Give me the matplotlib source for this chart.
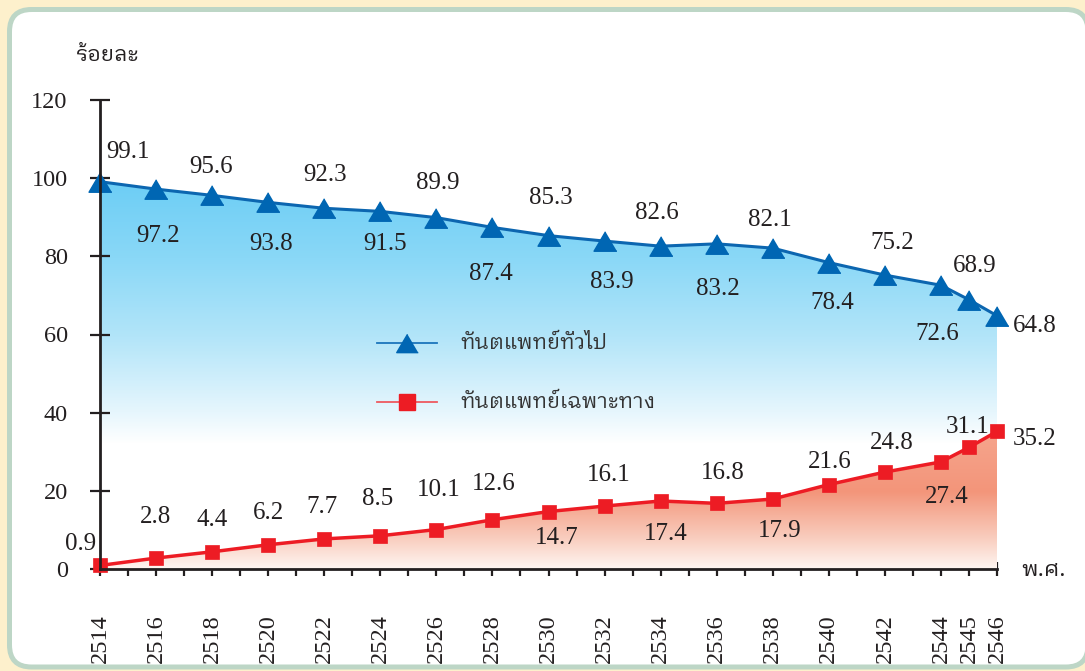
import numpy as np
import matplotlib
matplotlib.use("Agg")
import matplotlib.pyplot as plt
import matplotlib.font_manager as fm
from matplotlib.ft2font import FT2Font
from matplotlib.colors import LinearSegmentedColormap
from matplotlib.patches import FancyBboxPatch
from matplotlib.lines import Line2D

# data
years = [2514, 2516, 2518, 2520, 2522, 2524, 2526, 2528, 2530,
         2532, 2534, 2536, 2538, 2540, 2542, 2544, 2545, 2546]
general = [99.1, 97.2, 95.6, 93.8, 92.3, 91.5, 89.9, 87.4, 85.3,
           83.9, 82.6, 83.2, 82.1, 78.4, 75.2, 72.6, 68.9, 64.8]
special = [0.9, 2.8, 4.4, 6.2, 7.7, 8.5, 10.1, 12.6, 14.7,
           16.1, 17.4, 16.8, 17.9, 21.6, 24.8, 27.4, 31.1, 35.2]
tick_years = list(range(2514, 2547))
y_ticks = [0, 20, 40, 60, 80, 100, 120]

name_general = "ทันตแพทย์ทั่วไป"
name_special = "ทันตแพทย์เฉพาะทาง"
y_title = "ร้อยละ"
x_title = "พ.ศ."

# where each value label sits, pixels from its point (dx, dy up)
general_off = [(28, 30), (2, -47), (-1, 28), (3, -42), (1, 33), (5, -33),
               (1, 35), (-2, -47), (2, 38), (7, -41), (-4, 33), (1, -45),
               (-3, 28), (3, -40), (7, 32), (-4, -49), (6, 34), (38, -10)]
special_off = [(-19, 21), (-1, 41), (0, 32), (0, 32), (-2, 32), (-3, 37),
               (2, 40), (1, 36), (8, -26), (4, 31), (5, -33), (6, 30),
               (7, -32), (1, 23), (7, 29), (6, -35), (-1, 20), (38, -8)]


def find_thai_font():
    found = []
    for f in fm.fontManager.ttflist:
        try:
            if 0x0E17 in FT2Font(f.fname).get_charmap():
                found.append(f.name)
        except Exception:
            pass
    for key in ["Looped", "Serif Thai", "Thai", ""]:
        for n in found:
            if key in n:
                return n
    return "DejaVu Sans"


thai = find_thai_font()
thai_fam = [thai, "DejaVu Sans"]
num_fam = ["Liberation Serif", "DejaVu Serif"]
ink = "#231F20"

fig = plt.figure(figsize=(10.85, 6.71), dpi=100)
fig.patch.set_facecolor("#FDF0CC")
panel = FancyBboxPatch((0.095, 0.04), 10.785, 6.575,
                       boxstyle="round,pad=0,rounding_size=0.22",
                       transform=fig.dpi_scale_trans, facecolor="white",
                       edgecolor="#BDD6C6", linewidth=3.6, zorder=-1)
fig.patches.append(panel)

ax = fig.add_axes([100 / 1085, 1 - 569 / 671, 897 / 1085, 469 / 671])
ax.set_facecolor("none")

# gradient fills under both lines
blue_cmap = LinearSegmentedColormap.from_list(
    "b", [(0, "#FFFFFF"), (0.12, "#E6F6FD"), (0.4, "#B3E5F9"),
          (0.7, "#8AD8F7"), (1, "#6BCDF5")])
red_cmap = LinearSegmentedColormap.from_list(
    "r", [(0, "#FEF6F2"), (0.22, "#F9CDBE"), (0.55, "#F3957A"),
          (1, "#F6A68E")])
grad = np.linspace(0, 1, 256).reshape(-1, 1)

poly_b = ax.fill_between(years, general, 0, facecolor="none", lw=0)
im_b = ax.imshow(grad, extent=[2514, 2546, 32, 100], origin="lower",
                 cmap=blue_cmap, aspect="auto", zorder=1)
im_b.set_clip_path(poly_b.get_paths()[0], transform=ax.transData)

poly_r = ax.fill_between(years, special, 0, facecolor="none", lw=0)
im_r = ax.imshow(grad, extent=[2514, 2546, 0, 36], origin="lower",
                 cmap=red_cmap, aspect="auto", zorder=2)
im_r.set_clip_path(poly_r.get_paths()[0], transform=ax.transData)

tri = [(0, 0.85), (-1, -0.85), (1, -0.85)]
ax.plot(years, general, color="#0C66B0", lw=2.2, marker=tri, ms=16.5,
        mfc="#0066B3", mec="#0066B3", zorder=4, clip_on=False)
ax.plot(years, special, color="#ED1C24", lw=2.5, marker="s", ms=9.8,
        mfc="#ED1C24", mec="#ED1C24", mew=0.5, zorder=4, clip_on=False)

for x, v, (dx, dy) in zip(years, general, general_off):
    ax.annotate(f"{v:.1f}", (x, v), xytext=(dx, dy), textcoords="offset pixels",
                ha="center", va="center", fontsize=18, family=num_fam,
                color=ink, zorder=5)
for x, v, (dx, dy) in zip(years, special, special_off):
    ax.annotate(f"{v:.1f}", (x, v), xytext=(dx, dy), textcoords="offset pixels",
                ha="center", va="center", fontsize=18, family=num_fam,
                color=ink, zorder=5)

ax.set_xlim(2514, 2546)
ax.set_ylim(0, 120)
for s in ["top", "right"]:
    ax.spines[s].set_visible(False)
for s in ["left", "bottom"]:
    ax.spines[s].set_linewidth(2.0)
    ax.spines[s].set_color(ink)
    ax.spines[s].set_zorder(6)

ax.set_xticks(tick_years)
ax.set_xticklabels([str(y) if y in years else "" for y in tick_years])
ax.set_yticks(y_ticks)
ax.tick_params(axis="x", direction="inout", length=9.5, width=1.6, pad=28,
               labelrotation=90, labelsize=17.5, colors=ink)
ax.tick_params(axis="y", direction="inout", length=14.5, width=1.6, pad=16,
               labelsize=17.5, colors=ink)
for lab in ax.get_xticklabels() + ax.get_yticklabels():
    lab.set_family(num_fam)

# axis titles
fig.text(108 / 1085, 1 - 55 / 671, y_title, ha="center", va="center",
         fontsize=15.5, family=thai_fam, color=ink)
fig.text(1043 / 1085, 1 - 570 / 671, x_title, ha="center", va="center",
         fontsize=16, family=thai_fam, color=ink)

# legend, drawn by hand in figure pixels
def fx(px):
    return px / 1085


def fy(py):
    return 1 - py / 671


for py, lc, mc, mk, ms, label in [
        (343, "#1B75BC", "#0066B3", tri, 15.5, name_general),
        (402, "#EE5A5F", "#ED1C24", "s", 11.5, name_special)]:
    fig.add_artist(Line2D([fx(377), fx(437)], [fy(py), fy(py)], color=lc, lw=1.3))
    fig.add_artist(Line2D([fx(407)], [fy(py)], marker=mk, ms=ms, color=mc, lw=0))
    fig.text(fx(460), fy(py), label, ha="left", va="center", fontsize=15,
             family=thai_fam, color="#333333")

fig.savefig("out.png", dpi=100, facecolor=fig.get_facecolor())
